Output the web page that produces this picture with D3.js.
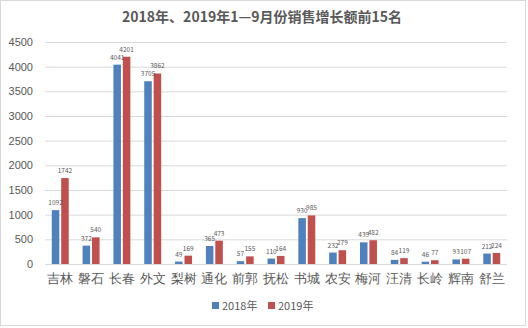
<!DOCTYPE html>
<html><head><meta charset="utf-8">
<script src="https://cdn.jsdelivr.net/npm/d3@7"></script>
<style>body{margin:0;background:#fff;}svg{display:block;font-family:"Microsoft YaHei","Noto Sans CJK SC",sans-serif;}</style>
</head><body><svg id="c" width="528" height="328"></svg>
<script>
const categories = ["吉林","磐石","长春","外文","梨树","通化","前郭","抚松","书城","农安","梅河","汪清","长岭","辉南","舒兰"];
const seriesNames = ["2018年","2019年"];
const values2018 = [1092,372,4041,3705,49,365,57,110,930,232,439,84,46,93,212];
const values2019 = [1742,540,4201,3862,169,473,155,164,985,279,482,119,77,107,224];
const yTicks = [0,500,1000,1500,2000,2500,3000,3500,4000,4500];
const colors = ["#4F81BD","#C0504D"];
const title = "2018年、2019年1—9月份销售增长额前15名";

const svg = d3.select("#c");
svg.append("rect").attr("x",0.5).attr("y",0.5).attr("width",525).attr("height",325)
  .attr("fill","#fff").attr("stroke","#d9d9d9");

const m = {l:45, r:507, t:42, b:264};
const x = d3.scaleBand().domain(categories).range([m.l, m.r]).paddingInner(0.45).paddingOuter(0.22);
const x1 = d3.scaleBand().domain(seriesNames).range([0, x.bandwidth()]).paddingInner(0.2);
const y = d3.scaleLinear().domain([0,4500]).range([m.b, m.t]);

svg.append("text").attr("x",262).attr("y",22).attr("text-anchor","middle")
  .attr("font-size",14).attr("font-weight","bold").attr("fill","#595959").text(title);

const yAxis = svg.append("g").attr("transform",`translate(${m.l},0)`)
  .call(d3.axisLeft(y).tickValues(yTicks).tickSize(-(m.r-m.l)).tickFormat(d3.format("d")));
yAxis.select(".domain").remove();
yAxis.selectAll(".tick line").attr("stroke","#d9d9d9");
yAxis.selectAll(".tick text").attr("x",-12).attr("fill","#595959").attr("font-size",11);

const groups = svg.append("g").selectAll("g").data(categories).join("g")
  .attr("transform",d=>`translate(${x(d)},0)`);
const data = categories.map((c,i)=>[values2018[i],values2019[i]]);
groups.selectAll("rect").data((d,i)=>data[i].map((v,j)=>({v,s:seriesNames[j],j})))
  .join("rect").attr("x",d=>x1(d.s)).attr("width",x1.bandwidth())
  .attr("y",d=>y(d.v)).attr("height",d=>y(0)-y(d.v)).attr("fill",d=>colors[d.j]);
groups.selectAll("text.v").data((d,i)=>data[i].map((v,j)=>({v,s:seriesNames[j],j})))
  .join("text").attr("class","v").attr("x",d=>x1(d.s)+x1.bandwidth()/2).attr("y",d=>y(d.v)-5)
  .attr("text-anchor","middle").attr("font-size",6.5).attr("fill","#595959").text(d=>d.v);

svg.append("line").attr("x1",m.l).attr("x2",m.r).attr("y1",y(0)+0.5).attr("y2",y(0)+0.5).attr("stroke","#d9d9d9");

const xAxis = svg.append("g").attr("transform",`translate(0,${m.b})`)
  .call(d3.axisBottom(x).tickSize(0));
xAxis.select(".domain").remove();
xAxis.selectAll(".tick text").attr("dy",0).attr("y",19).attr("fill","#595959").attr("font-size",13);

const leg = svg.append("g");
const legX = [212, 268];
seriesNames.forEach((s,i)=>{
  leg.append("rect").attr("x",legX[i]).attr("y",302).attr("width",7).attr("height",7).attr("fill",colors[i]);
  leg.append("text").attr("x",legX[i]+10).attr("y",310).attr("font-size",11).attr("fill","#595959").text(s);
});
</script></body></html>
